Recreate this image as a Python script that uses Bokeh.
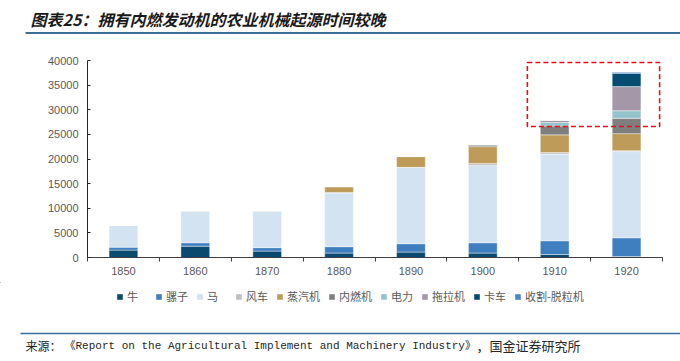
from bokeh.plotting import figure
from bokeh.layouts import column
from bokeh.models import (Range1d, LinearAxis, FixedTicker, NumeralTickFormatter, BoxAnnotation,
                          Legend, LegendItem)
from bokeh.core.properties import value
from bokeh.embed import file_html
from bokeh.resources import INLINE

# ---------------- data ----------------
years = ["1850", "1860", "1870", "1880", "1890", "1900", "1910", "1920"]
series_names = ["牛", "骡子", "马", "风车", "蒸汽机", "内燃机", "电力", "拖拉机", "卡车", "收割-脱粒机"]
ox        = [1500, 2300, 1300,   900,  1100,   900,   600,   200]
mule      = [ 600,  700,  700,  1300,  1700,  2100,  2800,  3800]
horse     = [4400, 6500, 7500, 10900, 15500, 15700, 17600, 17500]
windmill  = [   0,    0,    0,   100,     0,   400,   300,   200]
steam     = [   0,    0,    0,  1200,  2200,  3400,  3600,  3450]
ice       = [   0,    0,    0,     0,     0,   400,  1800,  3100]
electric  = [   0,    0,    0,     0,     0,     0,   700,  1550]
tractor   = [   0,    0,    0,     0,     0,     0,   450,  4900]
truck     = [   0,    0,    0,     0,     0,     0,     0,  2700]
harvester = [   0,    0,    0,     0,     0,     0,     0,   200]
y_ticks = [0, 5000, 10000, 15000, 20000, 25000, 30000, 35000, 40000]

title_text = "图表25：拥有内燃发动机的农业机械起源时间较晚"
source_parts = ["来源：", "《Report on the Agricultural Implement and Machinery Industry》", "，国金证券研究所"]

colors = ["#0b4a6f", "#3f7ebf", "#d3e3f2", "#bfbfbf", "#bf9b5a",
          "#7f7f7f", "#92c4cc", "#a497a8", "#054c72", "#4a85c6"]

# highlight box (annotation, in category-slot units / data y)
hl_left, hl_right, hl_bottom, hl_top = 6.12, 7.96, 26600, 39600

W = 680
line_col = "#3a6d96"
txt_col = "#595959"

# ---------------- title strip ----------------
pt = figure(width=W, height=38, x_range=Range1d(0, W), y_range=Range1d(38, 0),
            output_backend="svg", toolbar_location=None, min_border=0, frame_align=False,
            x_axis_location=None, y_axis_location=None, outline_line_color=None)
pt.xgrid.visible = False
pt.ygrid.visible = False
pt.text(x=[30], y=[18], text=[title_text], text_font=value("Noto Sans CJK SC"),
        text_font_size="16px", text_font_style="bold italic", text_color="#1a1a1a",
        text_baseline="middle", text_align="left")
pt.segment(x0=[25], y0=[32.5], x1=[W], y1=[32.5], line_color=line_col, line_width=2)

# ---------------- main chart ----------------
n = len(years)
centers = [i + 0.5 for i in range(n)]
data = {"x": centers}
for name, vals in zip(series_names, [ox, mule, horse, windmill, steam, ice, electric,
                                     tractor, truck, harvester]):
    data[name] = vals

p = figure(width=W, height=244, x_range=Range1d(0, n), y_range=Range1d(0, 40000),
           output_backend="svg", toolbar_location=None, frame_align=False,
           min_border_left=87, min_border_right=18, min_border_top=22, min_border_bottom=25,
           x_axis_location=None, outline_line_color=None)
p.xgrid.visible = False
p.ygrid.visible = False

renderers = p.vbar_stack(series_names, x="x", width=0.4, source=data, color=colors,
                         line_color="white", line_width=0.6, line_alpha=0.7)

# y axis
yax = p.yaxis[0]
yax.ticker = FixedTicker(ticks=y_ticks)
yax.formatter = NumeralTickFormatter(format="0")
yax.major_tick_in = 3
yax.major_tick_out = 0
yax.minor_tick_line_color = None
yax.axis_line_color = "#262626"
yax.major_tick_line_color = "#262626"
yax.major_label_text_font = "Liberation Sans"
yax.major_label_text_font_size = "11px"
yax.major_label_text_color = txt_col
yax.major_label_standoff = 9

# x axis: labels at bar centres, small ticks at slot boundaries
xax = LinearAxis(ticker=FixedTicker(ticks=centers, minor_ticks=list(range(n + 1))),
                 major_label_overrides={c: y for c, y in zip(centers, years)})
xax.axis_line_color = "#404040"
xax.major_tick_line_color = None
xax.major_tick_in = 0
xax.major_tick_out = 0
xax.minor_tick_line_color = "#404040"
xax.minor_tick_in = 0
xax.minor_tick_out = 4
xax.major_label_text_font = "Liberation Sans"
xax.major_label_text_font_size = "11px"
xax.major_label_text_color = txt_col
xax.major_label_standoff = 5
p.add_layout(xax, "below")

# highlight box
p.add_layout(BoxAnnotation(left=hl_left, right=hl_right, bottom=hl_bottom, top=hl_top,
                           fill_alpha=0, line_color="#e3101a", line_alpha=1, line_width=1.6,
                           line_dash="5 3"))

# ---------------- footer strip (legend + source) ----------------
FH = 78
pf = figure(width=W, height=FH, x_range=Range1d(0, W), y_range=Range1d(FH, 0),
            output_backend="svg", toolbar_location=None, min_border=0, frame_align=False,
            x_axis_location=None, y_axis_location=None, outline_line_color=None)
pf.xgrid.visible = False
pf.ygrid.visible = False

# legend proxies: one off-screen swatch per series (same colours as the bars)
items = []
for name, c in zip(series_names, colors):
    r = pf.vbar(x=[-5000], bottom=[-5000], top=[-4999], width=1, fill_color=c, line_color=None)
    items.append(LegendItem(label=name, renderers=[r]))
lg = Legend(items=items, orientation="horizontal", location=(116, 56),
            border_line_alpha=0, background_fill_alpha=0,
            glyph_width=7, glyph_height=7, label_height=12, label_standoff=4,
            spacing=8, padding=0, margin=0,
            label_text_font="Noto Sans CJK SC", label_text_font_size="11px",
            label_text_color=txt_col)
pf.add_layout(lg, "center")

pf.segment(x0=[20], y0=[51], x1=[W], y1=[51], line_color=line_col, line_width=1.5)
pf.text(x=[25], y=[63], text=[source_parts[0]], text_font=value("Noto Sans CJK SC"),
        text_font_size="12px", text_color="#262626", text_baseline="middle", text_align="left")
pf.text(x=[64], y=[63], text=[source_parts[1]],
        text_font=value("'Liberation Mono', 'Noto Sans CJK SC'"),
        text_font_size="11px", text_color="#262626", text_baseline="middle", text_align="left")
pf.text(x=[476], y=[63], text=[source_parts[2]], text_font=value("Noto Sans CJK SC"),
        text_font_size="13px", text_color="#262626", text_baseline="middle", text_align="left")

layout = column(pt, p, pf, spacing=0)
open("out.html", "w").write(file_html(layout, INLINE))
